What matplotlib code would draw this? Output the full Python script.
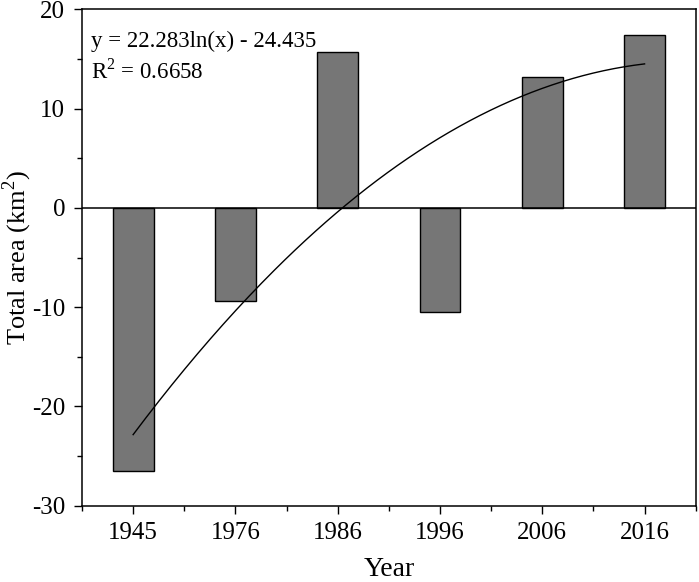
import numpy as np
import matplotlib
matplotlib.use("Agg")
import matplotlib.pyplot as plt
from matplotlib.ticker import MultipleLocator

# data
years = ["1945", "1976", "1986", "1996", "2006", "2016"]
area_change = [-26.5, -9.4, 15.7, -10.45, 13.2, 17.45]
fit_label = "y = 22.283ln(x) - 24.435"
r2_label = "R$^2$ = 0.6658"

plt.rcParams["font.family"] = ["Liberation Serif", "DejaVu Serif"]
plt.rcParams["mathtext.fontset"] = "custom"
plt.rcParams["mathtext.rm"] = "Liberation Serif"
plt.rcParams["axes.unicode_minus"] = False

fig = plt.figure(figsize=(6.99, 5.82), dpi=100)
ax = fig.add_axes([0.1173, 0.1311, 0.878, 0.8529])

x = np.arange(1, len(years) + 1)
ax.bar(x, area_change, width=0.4, color="#767676", edgecolor="black",
       linewidth=1.0, zorder=2)
ax.axhline(0, color="black", linewidth=1.1, zorder=3)

# trend curve (the drawn line follows a 2nd order fit of the bars)
coef = np.polyfit(x, area_change, 2)
xs = np.linspace(x[0], x[-1], 200)
ax.plot(xs, np.polyval(coef, xs), color="black", linewidth=1.0, zorder=4)

ax.text(0.015, 0.925, fit_label, transform=ax.transAxes, fontsize=16.5,
        ha="left", va="baseline")
ax.text(0.015, 0.861, r2_label, transform=ax.transAxes, fontsize=16.5,
        ha="left", va="baseline")

ax.set_xlim(0.5, 6.5)
ax.set_ylim(-30, 20)
ax.set_xticks(x)
ax.set_xticklabels(years)
ax.xaxis.set_minor_locator(MultipleLocator(1.0, offset=0.5))
ax.yaxis.set_major_locator(MultipleLocator(10))
ax.yaxis.set_minor_locator(MultipleLocator(5))

ax.tick_params(which="major", direction="out", length=6, width=1.0,
               labelsize=18, pad=6)
ax.tick_params(which="minor", direction="out", length=3.5, width=1.0)
ax.tick_params(top=False, right=False, which="both")
for s in ax.spines.values():
    s.set_linewidth(1.1)

ax.set_xlabel("Year", fontsize=20, labelpad=9)
ax.set_ylabel("Total area (km$^2$)", fontsize=19)
ax.yaxis.set_label_coords(-0.078, 0.5)

fig.savefig("out.png", dpi=100)
